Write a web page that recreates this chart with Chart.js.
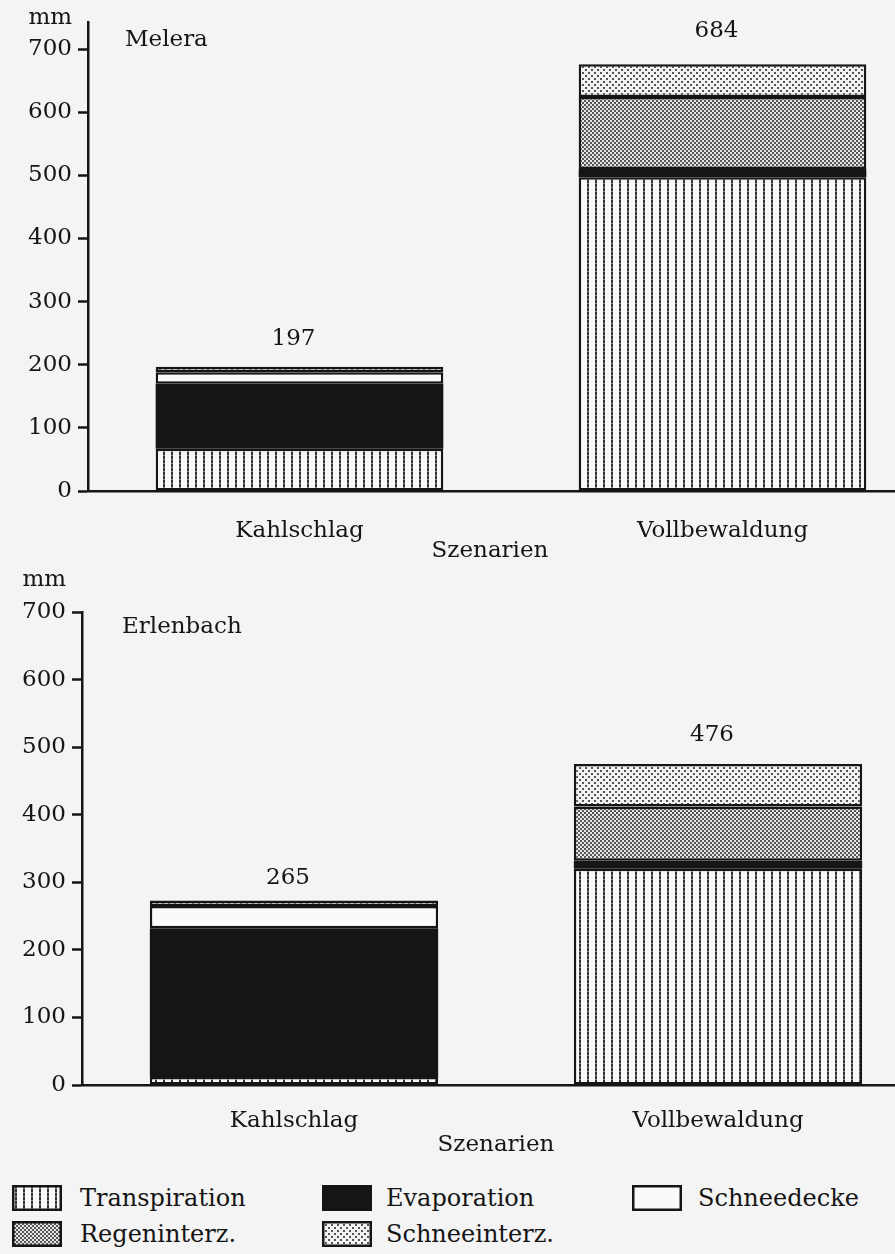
<!DOCTYPE html>
<html>
<head>
<meta charset="utf-8">
<script src="https://cdn.jsdelivr.net/npm/chart.js@4.4.1/dist/chart.umd.min.js"></script>
<style>
  body { margin: 0; background: #f4f4f4; width: 895px; height: 1254px; overflow: hidden; position: relative; font-family: 'DejaVu Serif', serif; }
  .wrap { position: absolute; left: 0; }
  #legend { position: absolute; left: 0; top: 1184px; width: 895px; font-size: 24px; color: #151515; }
  .item { position: absolute; height: 28px; line-height: 28px; }
  .item canvas { position: absolute; left: 0; top: 1px; }
  .item span { position: absolute; white-space: nowrap; }
</style>
</head>
<body>
<div class="wrap" style="top:0;width:934px;height:570px"><canvas id="melera"></canvas></div>
<div class="wrap" style="top:560px;width:930px;height:600px"><canvas id="erlenbach"></canvas></div>
<div id="legend"></div>
<script>
// categories and values (mm)
const categories = ["Kahlschlag", "Vollbewaldung"];
const seriesNames = ["Transpiration", "Evaporation", "Schneedecke", "Regeninterz.", "Schneeinterz."];

const meleraTranspiration = [67, 497];
const meleraEvaporation = [103, 13];
const meleraSchneedecke = [18, null];
const meleraRegeninterz = [null, 114];
const meleraSchneeinterz = [9, 52];
const meleraTotals = [197, 684];

const erlenTranspiration = [12, 320];
const erlenEvaporation = [220, 12];
const erlenSchneedecke = [33, null];
const erlenRegeninterz = [null, 80];
const erlenSchneeinterz = [8, 63];
const erlenTotals = [265, 476];

const yTicks = [0, 100, 200, 300, 400, 500, 600, 700];

const FONT = "'DejaVu Serif', serif";
const INK = "#151515";

// fill patterns
function makePattern(kind) {
  const c = document.createElement("canvas");
  const g = c.getContext("2d");
  if (kind === "lines") {
    c.width = 8; c.height = 4;
    g.fillStyle = "#f8f8f8"; g.fillRect(0, 0, 8, 4);
    g.fillStyle = "#333"; g.fillRect(3, 0, 2, 3);
    g.fillStyle = "#888"; g.fillRect(3, 3, 2, 1);
  } else if (kind === "dense") {
    c.width = 4; c.height = 4;
    g.fillStyle = "#e8e8e8"; g.fillRect(0, 0, 4, 4);
    g.fillStyle = "#555"; g.fillRect(0, 0, 2, 2); g.fillRect(2, 2, 2, 2);
  } else if (kind === "light") {
    c.width = 6; c.height = 6;
    g.fillStyle = "#f2f2f2"; g.fillRect(0, 0, 6, 6);
    g.fillStyle = "#555"; g.fillRect(0, 0, 2, 2); g.fillRect(3, 3, 2, 2);
  }
  return g.createPattern(c, "repeat");
}

const fills = [makePattern("lines"), "#151515", "#fafafa", makePattern("dense"), makePattern("light")];

function makeDatasets(values) {
  return values.map((v, i) => ({
    label: seriesNames[i],
    data: v,
    backgroundColor: fills[i],
    borderColor: INK,
    // black segment needs no outline, keeps the thin band solid
    borderWidth: i === 1 ? 0 : 2.5,
    borderSkipped: false,
    barPercentage: 0.68,
    categoryPercentage: 1
  }));
}

// texts drawn on top of the chart
const annotate = {
  id: "annotate",
  afterDraw(chart, args, opts) {
    const ctx = chart.ctx;
    const x = chart.scales.x, y = chart.scales.y;
    const area = chart.chartArea;
    ctx.save();
    ctx.fillStyle = INK;
    ctx.font = "23px " + FONT;
    ctx.textBaseline = "middle";
    ctx.textAlign = "right";
    ctx.fillText("mm", area.left - 16, opts.mmY);
    ctx.textAlign = "left";
    ctx.fillText(opts.site, opts.siteX, opts.siteY);
    ctx.textAlign = "center";
    opts.totals.forEach((t, i) => {
      ctx.fillText(String(t), x.getPixelForValue(i) - 6, y.getPixelForValue(t) - 28);
    });
    ctx.fillText("Szenarien", opts.szX, area.bottom + 60);
    ctx.restore();
  }
};

function makeChart(id, values, totals, opts) {
  return new Chart(document.getElementById(id), {
    type: "bar",
    data: { labels: categories, datasets: makeDatasets(values) },
    options: {
      responsive: true,
      maintainAspectRatio: false,
      animation: false,
      layout: { padding: { top: opts.padTop, left: 0, right: 0, bottom: 0 } },
      plugins: {
        legend: { display: false },
        tooltip: { enabled: false },
        annotate: Object.assign({ totals }, opts)
      },
      scales: {
        x: {
          stacked: true,
          grid: { display: false },
          border: { display: true, color: INK, width: 2.5 },
          ticks: { color: INK, font: { family: FONT, size: 23 }, padding: opts.xPad },
          afterFit: (s) => { s.height = opts.xHeight; }
        },
        y: {
          stacked: true,
          min: 0,
          max: opts.yMax,
          afterBuildTicks: (s) => { s.ticks = yTicks.map((v) => ({ value: v })); },
          grid: { drawOnChartArea: false, drawTicks: true, tickLength: 10, tickColor: INK, tickWidth: 2.5 },
          border: { display: true, color: INK, width: 2.5 },
          ticks: { color: INK, font: { family: FONT, size: 23 }, padding: 6 },
          afterFit: (s) => { s.width = opts.yWidth; }
        }
      }
    },
    plugins: [annotate]
  });
}

makeChart("melera",
  [meleraTranspiration, meleraEvaporation, meleraSchneedecke, meleraRegeninterz, meleraSchneeinterz],
  meleraTotals,
  { site: "Melera", siteX: 125, siteY: 40, mmY: 18, szX: 490, padTop: 22, yMax: 743, yWidth: 88, xHeight: 79, xPad: 18 });

makeChart("erlenbach",
  [erlenTranspiration, erlenEvaporation, erlenSchneedecke, erlenRegeninterz, erlenSchneeinterz],
  erlenTotals,
  { site: "Erlenbach", siteX: 122, siteY: 67, mmY: 20, szX: 496, padTop: 52, yMax: 700, yWidth: 82, xHeight: 75, xPad: 14 });

// legend
const legendItems = [
  { i: 0, x: 12, y: 0, tx: 80 },
  { i: 1, x: 322, y: 0, tx: 386 },
  { i: 2, x: 632, y: 0, tx: 698 },
  { i: 3, x: 12, y: 36, tx: 80 },
  { i: 4, x: 322, y: 36, tx: 386 }
];
const legend = document.getElementById("legend");
legendItems.forEach((it) => {
  const d = document.createElement("div");
  d.className = "item";
  d.style.left = it.x + "px";
  d.style.top = it.y + "px";
  const c = document.createElement("canvas");
  c.width = 50; c.height = 26;
  const g = c.getContext("2d");
  g.fillStyle = fills[it.i];
  g.fillRect(0, 0, 50, 26);
  g.strokeStyle = INK; g.lineWidth = 2.5;
  g.strokeRect(1.25, 1.25, 47.5, 23.5);
  d.appendChild(c);
  const s = document.createElement("span");
  s.style.left = (it.tx - it.x) + "px";
  s.textContent = seriesNames[it.i];
  d.appendChild(s);
  legend.appendChild(d);
});
</script>
</body>
</html>
